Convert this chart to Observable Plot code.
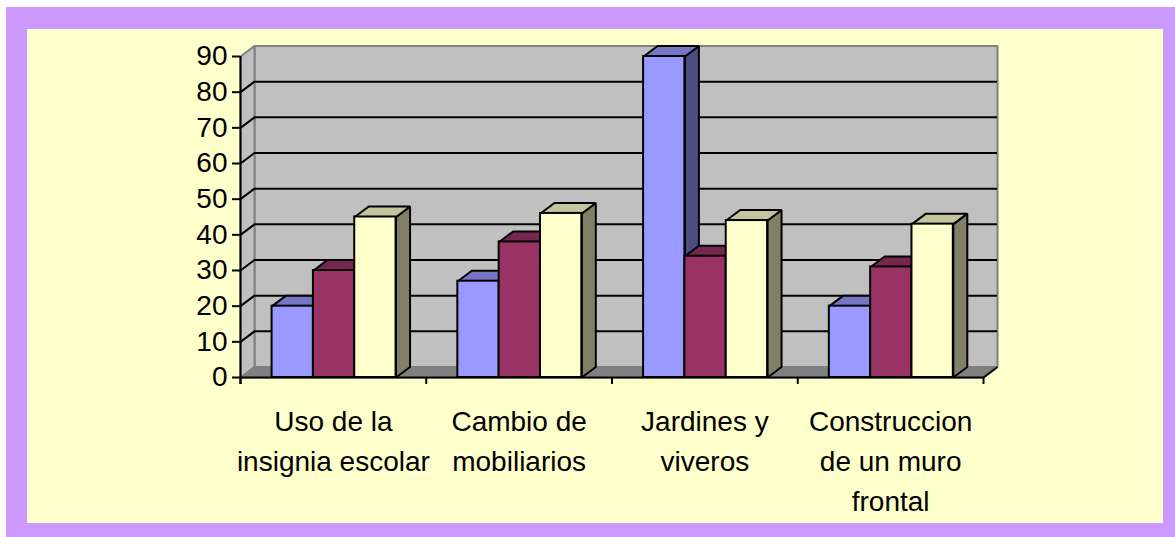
<!DOCTYPE html>
<html><head><meta charset="utf-8">
<script src="https://cdn.jsdelivr.net/npm/d3@7"></script>
<script src="https://cdn.jsdelivr.net/npm/@observablehq/plot@0.6"></script>
<style>
html,body{margin:0;padding:0;background:#fff;width:1175px;height:537px;overflow:hidden;}
#frame{position:absolute;left:6px;top:7px;width:1169px;height:530px;background:#CC99FF;}
#panel{position:absolute;left:21px;top:22px;width:1136px;height:494px;background:#FFFFCC;}
#chart{position:absolute;left:0;top:0;}
</style></head><body>
<div id="frame"><div id="panel"></div></div>
<div id="chart"></div>
<script>
// ---- data ----
const categories = ["Uso de la\ninsignia escolar", "Cambio de\nmobiliarios", "Jardines y\nviveros", "Construccion\nde un muro\nfrontal"];
const seriesNames = ["Serie 1", "Serie 2", "Serie 3"];
const serie1 = [20, 27, 90, 20];
const serie2 = [30, 38, 34, 31];
const serie3 = [45, 46, 44, 43];
const yTicks = [0, 10, 20, 30, 40, 50, 60, 70, 80, 90];

// ---- styles ----
const frontColors = ["#9999FF", "#993366", "#FFFFCC"];
const topColors = ["#7676C4", "#76274F", "#C4C49D"];
const sideColors = ["#4D4D80", "#4D1A33", "#808066"];
const FONT = "'Liberation Sans', Arial, sans-serif";

// ---- layout ----
const W = 1175, H = 537, mL = 240, mR = 192, mT = 56, mB = 160;
const nCat = categories.length, yMax = 90;
const pxX = (W - mL - mR) / nCat, pxY = (H - mT - mB) / yMax;
const DX = 14 / pxX, DY = 10.5 / pxY;      // 3D depth in data units
const TX = 8 / pxX, TY = 7 / pxY;          // tick lengths in data units
const barOffset = 0.17, barW = 0.2225;

const values = [serie1, serie2, serie3];

const poly = (pts, fill, stroke = "black") =>
  Plot.line(pts.map(([x, y]) => ({x, y})), {x: "x", y: "y", fill, stroke, strokeWidth: 2, curve: "linear-closed", strokeLinejoin: "miter"});

const marks = [];
// back wall
marks.push(poly([[DX, DY], [nCat + DX, DY], [nCat + DX, yMax + DY], [DX, yMax + DY]], "#C0C0C0", "#808080"));
// side wall
marks.push(poly([[0, 0], [DX, DY], [DX, yMax + DY], [0, yMax]], "#C0C0C0", "#808080"));
// gridlines on back wall
const inner = yTicks.filter(t => t > 0 && t < yMax);
marks.push(Plot.ruleY(inner, {y: d => d + DY, x1: () => DX, x2: () => nCat + DX, stroke: "black", strokeWidth: 2}));
// diagonal grid on side wall
marks.push(Plot.link(inner, {x1: () => 0, y1: d => d, x2: () => DX, y2: d => d + DY, stroke: "black", strokeWidth: 2}));
// floor
marks.push(poly([[0, 0], [nCat, 0], [nCat + DX, DY], [DX, DY]], "#808080", "#808080"));
marks.push(Plot.link([0], {x1: () => nCat, y1: () => 0, x2: () => nCat + DX, y2: () => DY, stroke: "black", strokeWidth: 2}));

// bars
categories.forEach((c, i) => {
  values.forEach((ser, s) => {
    const v = ser[i];
    const x1 = i + barOffset + s * barW, x2 = x1 + barW;
    marks.push(poly([[x2, 0], [x2 + DX, DY], [x2 + DX, v + DY], [x2, v]], sideColors[s]));
    marks.push(poly([[x1, v], [x2, v], [x2 + DX, v + DY], [x1 + DX, v + DY]], topColors[s]));
    marks.push(Plot.rect([{x1, x2, v, name: seriesNames[s]}], {x1: "x1", x2: "x2", y1: () => 0, y2: "v", fill: frontColors[s], stroke: "black", strokeWidth: 2, title: "name"}));
  });
});

// axes
marks.push(Plot.ruleX([0], {x: d => d, y1: () => -TY, y2: () => yMax, stroke: "black", strokeWidth: 2}));
marks.push(Plot.ruleY([0], {y: d => d, x1: () => 0, x2: () => nCat, stroke: "black", strokeWidth: 2}));
marks.push(Plot.ruleY(yTicks, {y: d => d, x1: () => -TX, x2: () => 0, stroke: "black", strokeWidth: 2}));
marks.push(Plot.ruleX(d3.range(nCat + 1), {x: d => d, y1: () => -TY, y2: () => 0, stroke: "black", strokeWidth: 2}));
marks.push(Plot.text(yTicks, {x: () => 0, y: d => d, text: d => String(d), textAnchor: "end", dx: -13, fontSize: 28, fill: "black"}));
marks.push(Plot.text(categories, {x: (d, i) => i + 0.5, y: () => 0, text: d => d, lineAnchor: "top", dy: 25, fontSize: 28, lineHeight: 1.43, fill: "black"}));

const chart = Plot.plot({
  width: W, height: H,
  marginLeft: mL, marginRight: mR, marginTop: mT, marginBottom: mB,
  x: {type: "linear", domain: [0, nCat], axis: null},
  y: {type: "linear", domain: [0, yMax], axis: null},
  style: {background: "transparent", fontFamily: FONT, overflow: "visible"},
  marks
});
document.getElementById("chart").appendChild(chart);
</script>
</body></html>
